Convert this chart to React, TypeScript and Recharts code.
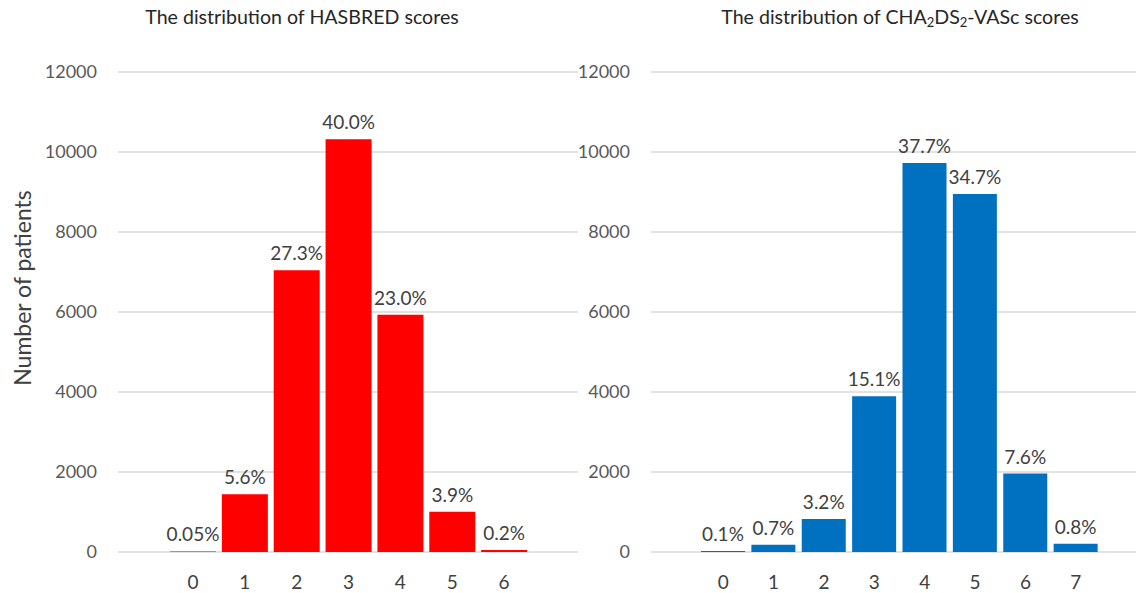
import { BarChart, Bar, XAxis, YAxis, CartesianGrid, LabelList } from 'recharts';

// HAS-BLED scores (left panel)
const hasbledScores = ['0', '1', '2', '3', '4', '5', '6'];
const hasbledPatients = [13, 1445, 7042, 10318, 5933, 1006, 52];
const hasbledPct = ['0.05%', '5.6%', '27.3%', '40.0%', '23.0%', '3.9%', '0.2%'];

// CHA2DS2-VASc scores (right panel)
const chadsScores = ['0', '1', '2', '3', '4', '5', '6', '7'];
const chadsPatients = [26, 181, 826, 3896, 9727, 8953, 1961, 206];
const chadsPct = ['0.1%', '0.7%', '3.2%', '15.1%', '37.7%', '34.7%', '7.6%', '0.8%'];

const yTicks = [0, 2000, 4000, 6000, 8000, 10000, 12000];

const FONT = 'Lato, "Open Sans", sans-serif';

const hasbledData = hasbledScores.map((s, i) => ({ score: s, patients: hasbledPatients[i], pct: hasbledPct[i] }));
const chadsData = chadsScores.map((s, i) => ({ score: s, patients: chadsPatients[i], pct: chadsPct[i] }));

function Panel({ data, width, yWidth, pad, color }: any) {
  return (
    <BarChart
      width={width}
      height={593}
      data={data}
      margin={{ top: 72, right: 0, bottom: 0, left: 0 }}
      barCategoryGap={3}
    >
      <CartesianGrid vertical={false} stroke="#d9d9d9" strokeWidth={1.5} />
      <XAxis
        dataKey="score"
        axisLine={false}
        tickLine={false}
        height={41}
        padding={pad}
        tickMargin={18}
        tick={{ fill: '#404040', fontSize: 19, fontFamily: FONT }}
      />
      <YAxis
        width={yWidth}
        domain={[0, 12000]}
        ticks={yTicks}
        axisLine={false}
        tickLine={false}
        tickMargin={15}
        tick={{ fill: '#595959', fontSize: 18, fontFamily: FONT }}
      />
      <Bar dataKey="patients" fill={color} isAnimationActive={false}>
        <LabelList dataKey="pct" position="top" offset={10} fill="#404040" fontSize={19} fontFamily={FONT} />
      </Bar>
    </BarChart>
  );
}

export default function App() {
  return (
    <div style={{ position: 'absolute', left: 0, top: 0, width: 1136, height: 593, background: '#fff' }}>
      <div style={{ position: 'absolute', left: 0, top: 0 }}>
        <Panel data={hasbledData} width={578} yWidth={118} pad={{ left: 49, right: 48 }} color="#FF0000" />
      </div>
      <div style={{ position: 'absolute', left: 560, top: 0 }}>
        <Panel data={chadsData} width={576} yWidth={91} pad={{ left: 47, right: 35 }} color="#0070C0" />
      </div>
      <svg width={1136} height={593} style={{ position: 'absolute', left: 0, top: 0, pointerEvents: 'none' }}>
        <g fontFamily={FONT} fill="#262626">
          <text x={302} y={19} textAnchor="middle" dominantBaseline="middle" fontSize={19.6}>
            The distribution of HASBRED scores
          </text>
          <text x={900} y={19} textAnchor="middle" dominantBaseline="middle" fontSize={19.6}>
            The distribution of CHA<tspan fontSize={13} dy={5}>2</tspan>
            <tspan dy={-5}>DS</tspan>
            <tspan fontSize={13} dy={5}>2</tspan>
            <tspan dy={-5}>-VASc scores</tspan>
          </text>
          <text
            x={25}
            y={288}
            textAnchor="middle"
            dominantBaseline="middle"
            fontSize={23}
            fill="#404040"
            transform="rotate(-90 25 288)"
          >
            Number of patients
          </text>
        </g>
      </svg>
    </div>
  );
}
